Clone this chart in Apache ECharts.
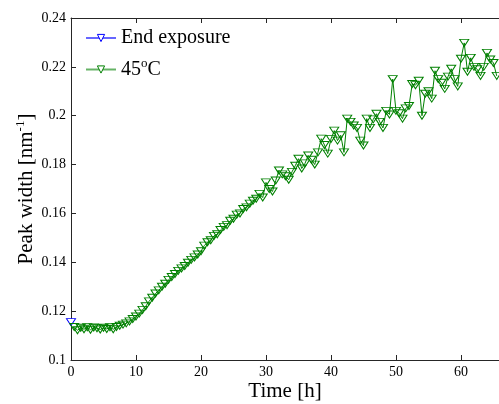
<!DOCTYPE html>
<html>
<head>
<meta charset="utf-8">
<script src="https://cdn.jsdelivr.net/npm/echarts@6/dist/echarts.min.js"></script>
<style>html,body{margin:0;padding:0;background:#fff;}#c{width:499px;height:404px;}</style>
</head>
<body>
<div id="c"></div>
<script>
var xTicks = [0, 10, 20, 30, 40, 50, 60];
var yTicks = [0.1, 0.12, 0.14, 0.16, 0.18, 0.2, 0.22, 0.24];
var endTime = [0];
var endValue = [0.1155];
var hours = [0.5,1,1.5,2,2.5,3,3.5,4,4.5,5,5.5,6,6.5,7,7.5,8,8.5,9,9.5,10,
10.5,11,11.5,12,12.5,13,13.5,14,14.5,15,15.5,16,16.5,17,17.5,18,18.5,19,19.5,20,
20.5,21,21.5,22,22.5,23,23.5,24,24.5,25,25.5,26,26.5,27,27.5,28,28.5,29,29.5,30,
30.5,31,31.5,32,32.5,33,33.5,34,34.5,35,35.5,36,36.5,37,37.5,38,38.5,39,39.5,40,
40.5,41,41.5,42,42.5,43,43.5,44,44.5,45,45.5,46,46.5,47,47.5,48,48.5,49,49.5,50,
50.5,51,51.5,52,52.5,53,53.5,54,54.5,55,55.5,56,56.5,57,57.5,58,58.5,59,59.5,60,
60.5,61,61.5,62,62.5,63,63.5,64,64.5,65,65.5];
var width45 = [0.1135,0.1122,0.1132,0.1126,0.1134,0.1124,0.1133,0.1130,0.1125,0.1132,0.1127,0.1134,0.1126,0.1135,0.1140,0.1145,0.1150,0.1158,0.1168,0.1178,
0.1190,0.1205,0.1220,0.1240,0.1255,0.1272,0.1285,0.1300,0.1312,0.1328,0.1340,0.1352,0.1365,0.1375,0.1385,0.1398,0.1410,0.1420,0.1432,0.1445,
0.1468,0.1482,0.1490,0.1508,0.1515,0.1532,0.1545,0.1552,0.1570,0.1578,0.1595,0.1600,0.1618,0.1625,0.1640,0.1652,0.1660,0.1680,0.1665,0.1727,
0.1700,0.1690,0.1735,0.1776,0.1760,0.1752,0.1738,0.1770,0.1795,0.1824,0.1784,0.1805,0.1837,0.1820,0.1800,0.1850,0.1906,0.1880,0.1845,0.1905,
0.1939,0.1898,0.1920,0.1850,0.1988,0.1975,0.1960,0.1950,0.1898,0.1878,0.1988,0.1950,0.1985,0.2008,0.1975,0.1950,0.2020,0.2005,0.2150,0.2020,
0.2010,0.1988,0.2030,0.2040,0.2130,0.2125,0.2143,0.2000,0.2090,0.2100,0.2070,0.2184,0.2150,0.2135,0.2110,0.2160,0.2192,0.2150,0.2120,0.2233,
0.2298,0.2180,0.2237,0.2200,0.2190,0.2163,0.2200,0.2257,0.2230,0.2216,0.2163];

function zip(a, b) { return a.map(function (v, i) { return [v, b[i]]; }); }
function onTick(list, v) { return list.some(function (t) { return Math.abs(t - v) < 1e-9; }); }

var FONT = 'Liberation Serif';
var AX = '#262626';
var chart = echarts.init(document.getElementById('c'), null, {renderer: 'canvas'});
chart.setOption({
  animation: false,
  backgroundColor: '#fff',
  grid: {left: 71, top: 18, right: 0, bottom: 44, containLabel: false, outerBoundsMode: 'none'},
  legend: {
    left: 80, top: 23, orient: 'vertical', itemGap: 9,
    itemWidth: 30, itemHeight: 9,
    itemStyle: {color: '#fff', borderWidth: 1},
    lineStyle: {opacity: 0.6},
    textStyle: {fontFamily: FONT, fontSize: 20, color: '#000',
      rich: {sup: {fontFamily: FONT, fontSize: 13, color: '#000', verticalAlign: 'top', padding: [0,0,12,0]}}},
    formatter: function (n) { return n === '45C' ? '45{sup|o}C' : n; },
    data: ['End exposure', '45C']
  },
  xAxis: [{
    type: 'value', min: 0, max: 65.85, interval: 10,
    name: 'Time [h]', nameLocation: 'middle', nameGap: 21, nameMoveOverlap: false,
    nameTextStyle: {fontFamily: FONT, fontSize: 21, color: '#000'},
    axisLine: {show: true, onZero: false, lineStyle: {color: AX, width: 1}},
    axisTick: {show: true, inside: true, length: 5, lineStyle: {color: AX}},
    axisLabel: {fontFamily: FONT, fontSize: 14, color: '#000', margin: 5, hideOverlap: false,
      formatter: function (v) { return onTick(xTicks, v) ? String(v) : ''; }},
    splitLine: {show: false}
  }, {
    type: 'value', position: 'top', min: 0, max: 65.85, interval: 10,
    axisLine: {show: true, lineStyle: {color: AX, width: 1}},
    axisTick: {show: true, inside: true, length: 5, lineStyle: {color: AX}},
    axisLabel: {show: false}, splitLine: {show: false}
  }],
  yAxis: [{
    type: 'value', min: 0.1, max: 0.24, interval: 0.02,
    name: 'Peak width [nm{sup|-1}]', nameLocation: 'middle', nameGap: 32, nameRotate: 90, nameMoveOverlap: false,
    nameTextStyle: {fontFamily: FONT, fontSize: 21, color: '#000',
      rich: {sup: {fontFamily: FONT, fontSize: 13, color: '#000', verticalAlign: 'top', padding: [0,0,12,0]}}},
    axisLine: {show: true, onZero: false, lineStyle: {color: AX, width: 1}},
    axisTick: {show: true, inside: true, length: 5, lineStyle: {color: AX}},
    axisLabel: {fontFamily: FONT, fontSize: 14, color: '#000', margin: 5,
      formatter: function (v) { return onTick(yTicks, v) ? String(+v.toFixed(2)) : ''; }},
    splitLine: {show: false}
  }],
  series: [{
    name: 'End exposure', type: 'line', data: zip(endTime, endValue),
    symbol: 'triangle', symbolRotate: 180, symbolSize: [9, 7], showSymbol: true,
    lineStyle: {color: '#0000ff', width: 1},
    itemStyle: {color: '#fff', borderColor: '#0000ff', borderWidth: 1},
    z: 2
  }, {
    name: '45C', type: 'line', data: zip(hours, width45),
    symbol: 'triangle', symbolRotate: 180, symbolSize: [9, 7], showSymbol: true,
    lineStyle: {color: '#008000', width: 1},
    itemStyle: {color: 'rgba(255,255,255,0)', borderColor: '#008000', borderWidth: 1},
    z: 3
  }]
});
</script>
</body>
</html>
